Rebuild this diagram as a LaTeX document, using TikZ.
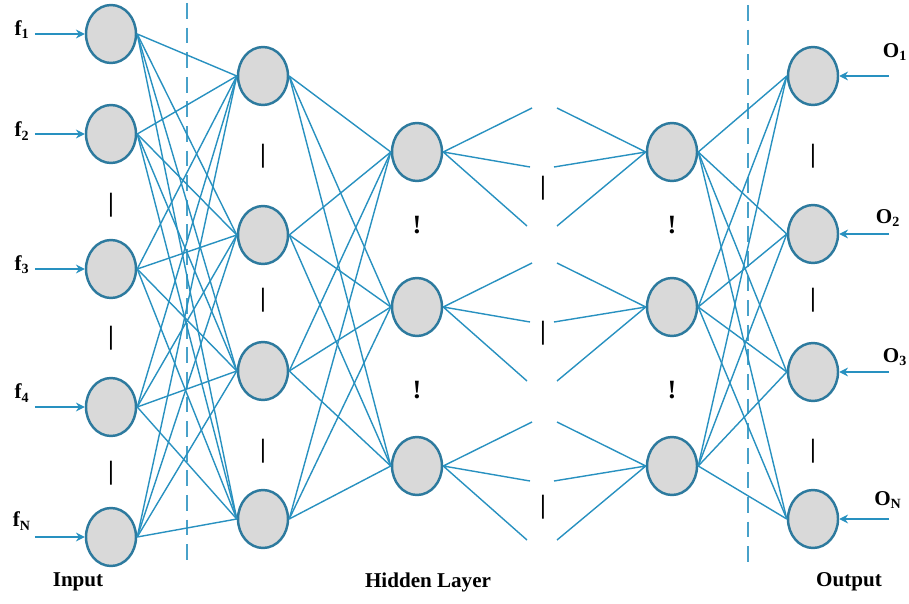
\documentclass[tikz,border=0pt]{standalone}
\usepackage{fontspec}
\setmainfont{Liberation Serif}
\usetikzlibrary{shapes.geometric,arrows.meta}

\definecolor{edgeblue}{RGB}{40,145,192}
\definecolor{ringblue}{RGB}{45,122,158}
\definecolor{cellgray}{RGB}{217,217,217}

\tikzset{
 neuron/.style={ellipse,draw=ringblue,line width=1.4pt,fill=cellgray,minimum width=1cm,minimum height=1.16cm,inner sep=0pt},
 link/.style={edgeblue,line width=0.8pt},
 feed/.style={edgeblue,line width=1.1pt,-{Stealth[length=5pt,width=5pt]}},
 split/.style={edgeblue!85,line width=0.9pt,dash pattern=on 9pt off 5pt},
 lbl/.style={font=\fontsize{12}{14}\selectfont\bfseries},
 gap/.style={font=\fontsize{15}{16}\selectfont\bfseries},
}

\begin{document}
\begin{tikzpicture}[x=0.02cm,y=-0.02cm]
\useasboundingbox (0,0) rectangle (909,604);

% layers
\foreach \i/\y in {1/34,2/134,3/269,4/407,5/537}
 \node[neuron] (in\i) at (111,\y) {};
\foreach \i/\y in {1/76,2/235,3/371,4/519}
 \node[neuron] (ha\i) at (263,\y) {};
\foreach \i/\y in {1/152,2/307,3/466}
{
 \node[neuron] (hb\i) at (417,\y) {};
 \node[neuron] (hc\i) at (672,\y) {};
}
\foreach \i/\y in {1/76,2/234,3/372,4/519}
 \node[neuron] (out\i) at (813,\y) {};

% dashed borders
\coordinate (cuta) at (187,3);
\coordinate (cutb) at (187,560);
\coordinate (cutc) at (748,5);
\coordinate (cutd) at (748,562);
\draw[split] (cuta) -- (cutb);
\draw[split] (cutc) -- (cutd);

% weights
\foreach \i in {1,...,5}
 \foreach \j in {1,...,4}
  \draw[link] (in\i.east) -- (ha\j.west);
\foreach \i in {1,...,4}
 \foreach \j in {1,...,3}
  \draw[link] (ha\i.east) -- (hb\j.west);
\foreach \i in {1,...,3}
 \foreach \j in {1,...,4}
  \draw[link] (hc\i.east) -- (out\j.west);

% open ends in the middle
\foreach \i/\y in {1/152,2/307,3/466}
{
 \coordinate (la\i) at (532,\y-44);
 \coordinate (lb\i) at (530,\y+15);
 \coordinate (lc\i) at (527,\y+74);
 \coordinate (ra\i) at (557,\y-44);
 \coordinate (rb\i) at (554,\y+15);
 \coordinate (rc\i) at (557,\y+74);
 \draw[link] (hb\i.east) -- (la\i) (hb\i.east) -- (lb\i) (hb\i.east) -- (lc\i);
 \draw[link] (ra\i) -- (hc\i.west) (rb\i) -- (hc\i.west) (rc\i) -- (hc\i.west);
}

% inputs
\foreach \i/\t/\ly in {1/1/30,2/2/131,3/3/265,4/4/393,5/N/521}
{
 \coordinate (fs\i) at ([xshift=-1cm]in\i.west);
 \draw[feed] (fs\i) -- (in\i.west);
 \node[lbl] (fl\i) at (22,\ly) {f\textsubscript{\t}};
}

% outputs
\foreach \i/\t/\lx/\ly in {1/1/895/52,2/2/888/218,3/3/895/357,4/N/888/500}
{
 \coordinate (os\i) at ([xshift=1cm]out\i.east);
 \draw[feed] (os\i) -- (out\i.east);
 \node[lbl] (ol\i) at (\lx,\ly) {O\textsubscript{\t}};
}

% gaps
\foreach \y [count=\k] in {205,338,473}
 \node[gap] (ia\k) at (111,\y) {|};
\foreach \y [count=\k] in {156,300,451}
{
 \node[gap] (hg\k) at (263,\y) {|};
 \node[gap] (og\k) at (813,\y) {|};
}
\foreach \y [count=\k] in {188,333,507}
 \node[gap] (mg\k) at (543,\y) {|};
\foreach \y [count=\k] in {225,390}
{
 \node[gap] (bg\k) at (417,\y) {!};
 \node[gap] (cg\k) at (672,\y) {!};
}

% titles
\node[lbl] (inputlbl) at (78,582) {Input};
\node[lbl] (hiddenlbl) at (428,582) {Hidden Layer};
\node[lbl] (outputlbl) at (849,582) {Output};

\end{tikzpicture}
\end{document}
